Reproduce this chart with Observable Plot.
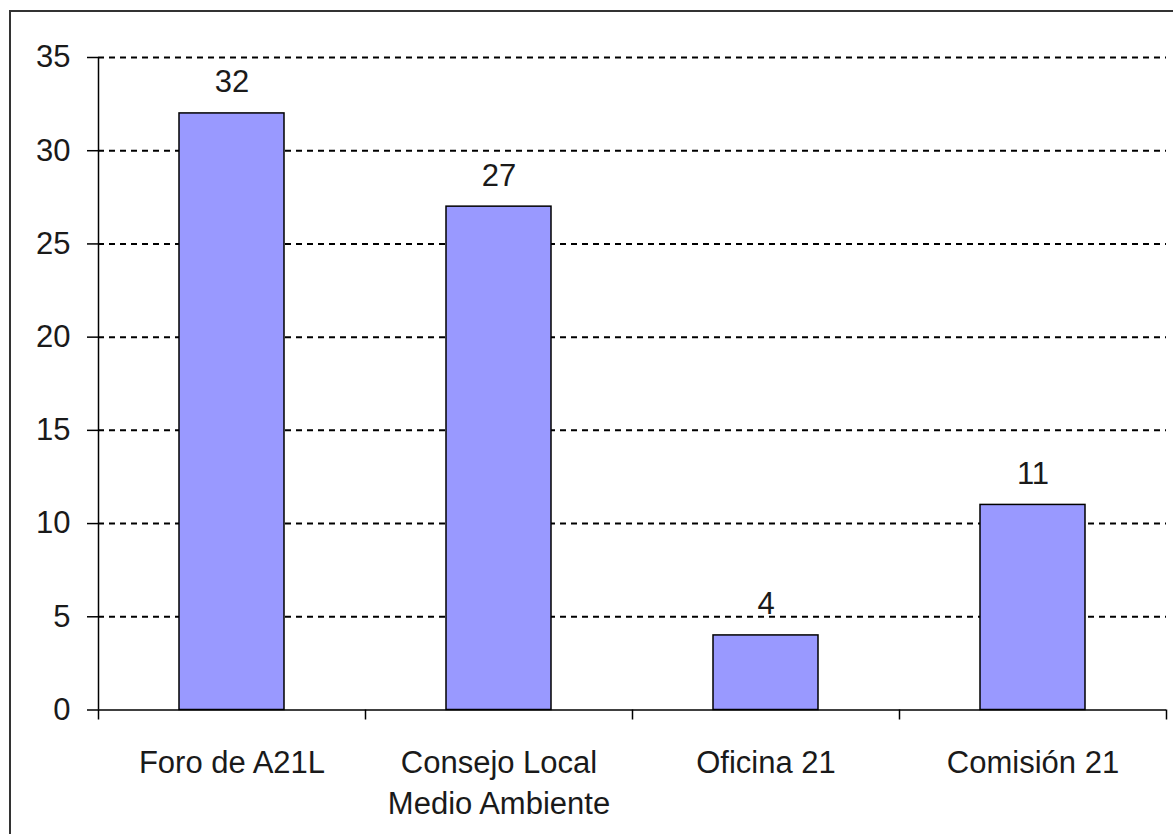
<!DOCTYPE html>
<html>
<head>
<meta charset="utf-8">
<script src="https://cdn.jsdelivr.net/npm/d3@7"></script>
<script src="https://cdn.jsdelivr.net/npm/@observablehq/plot@0.6"></script>
<style>
  html, body { margin: 0; padding: 0; background: #fff; overflow: hidden; }
  #wrap { position: relative; width: 1173px; height: 834px; overflow: hidden; }
  #border { position: absolute; left: 9px; top: 10px; width: 1300px; height: 1000px;
            border-left: 2px solid #333; border-top: 2px solid #333; pointer-events: none; }
  #chart { position: absolute; left: 0; top: 0; }
</style>
</head>
<body>
<div id="wrap"><div id="chart"></div><div id="border"></div></div>
<script>
const categories = ["Foro de A21L", "Consejo Local\nMedio Ambiente", "Oficina 21", "Comisión 21"];
const values = [32, 27, 4, 11];
const yTicks = [0, 5, 10, 15, 20, 25, 30, 35];

const data = categories.map((c, i) => ({category: c, value: values[i]}));

const W = 1173, H = 834;
const mL = 98, mR = 7, mT = 57, mB = 124.5;
const step = (W - mL - mR) / categories.length;
const plotH = H - mT - mB;
const font = "'Liberation Sans', Arial, sans-serif";
const ink = "#1a1a1a";

const chart = Plot.plot({
  width: W,
  height: H,
  marginLeft: mL,
  marginRight: mR,
  marginTop: mT,
  marginBottom: mB,
  style: {fontFamily: font, fontSize: "31px", color: ink, background: "transparent"},
  x: {domain: categories, padding: 0, label: null},
  y: {domain: [0, 35], label: null},
  marks: [
    Plot.gridY(yTicks.filter(d => d > 0), {stroke: "#000", strokeOpacity: 1, strokeWidth: 2, strokeDasharray: "6,5"}),
    Plot.barY(data, {x: "category", y: "value", fill: "#9999FF", stroke: "#000", strokeWidth: 1.5, insetLeft: 81, insetRight: 81}),
    Plot.ruleY([0], {stroke: "#000", strokeWidth: 1.5}),
    Plot.ruleX([categories[0]], {x: d => d, dx: -step / 2, stroke: "#000", strokeWidth: 1.5}),
    Plot.ruleX(categories, {x: d => d, dx: -step / 2, stroke: "#000", strokeWidth: 1.5, insetTop: plotH, insetBottom: -10}),
    Plot.ruleX([categories[categories.length - 1]], {x: d => d, dx: step / 2, stroke: "#000", strokeWidth: 1.5, insetTop: plotH, insetBottom: -10}),
    Plot.axisY({ticks: yTicks, tickSize: 11, tickPadding: 17, stroke: "#000", strokeWidth: 1.5, fill: ink, fontSize: 31, label: null}),
    Plot.axisX({tickSize: 0, tickPadding: 34, fill: ink, fontSize: 31, lineHeight: 1.32, label: null}),
    Plot.text(data, {x: "category", y: "value", text: d => String(d.value), dy: -31, fill: ink, fontSize: 31})
  ]
});
document.getElementById("chart").appendChild(chart);
</script>
</body>
</html>
